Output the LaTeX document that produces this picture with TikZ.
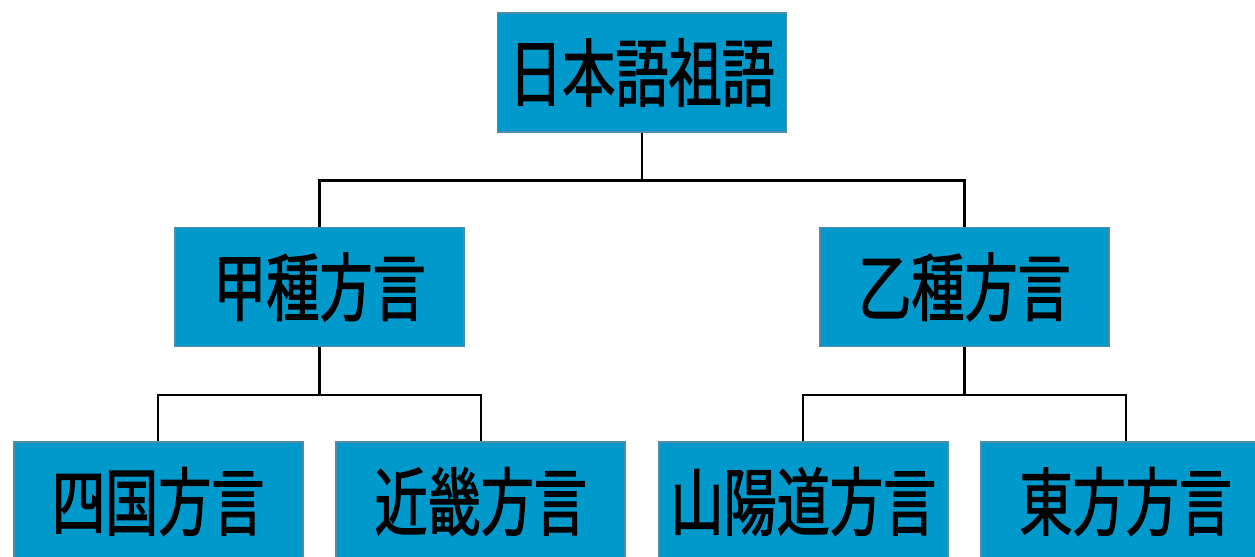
\documentclass[tikz,border=0pt]{standalone}
\usepackage{fontspec}
\newfontfamily\cjk[FakeStretch=0.72, FakeBold=1.5]{Noto Sans CJK JP}
\definecolor{boxblue}{HTML}{0099CC}
\definecolor{boxedge}{HTML}{4F8CAA}

\begin{document}
\begin{tikzpicture}[every node/.style={rectangle, fill=boxblue, draw=boxedge, line width=1.1pt, minimum width=5.78cm, minimum height=2.38cm, font=\cjk\fontsize{42}{42}\selectfont},parent anchor=south, child anchor=north, level distance=4.29cm, edge from parent/.style={draw, black, line width=1.4pt}, edge from parent path={(\tikzparentnode\tikzparentanchor) -- +(0,-0.955cm) -| (\tikzchildnode\tikzchildanchor)}, level 1/.style={sibling distance=12.9cm}, level 2/.style={sibling distance=6.45cm}]
  \useasboundingbox (-12.84,-9.69) rectangle (12.26,1.45);
  \node (proto) {日本語祖語}
  child {node (kou) {甲種方言}
    child {node (shikoku) {四国方言}}
    child {node (kinki) {近畿方言}}}
  child {node (otsu) {乙種方言}
    child {node (sanyo) {山陽道方言}}
    child {node (toho) {東方方言}}};
\end{tikzpicture}
\end{document}
